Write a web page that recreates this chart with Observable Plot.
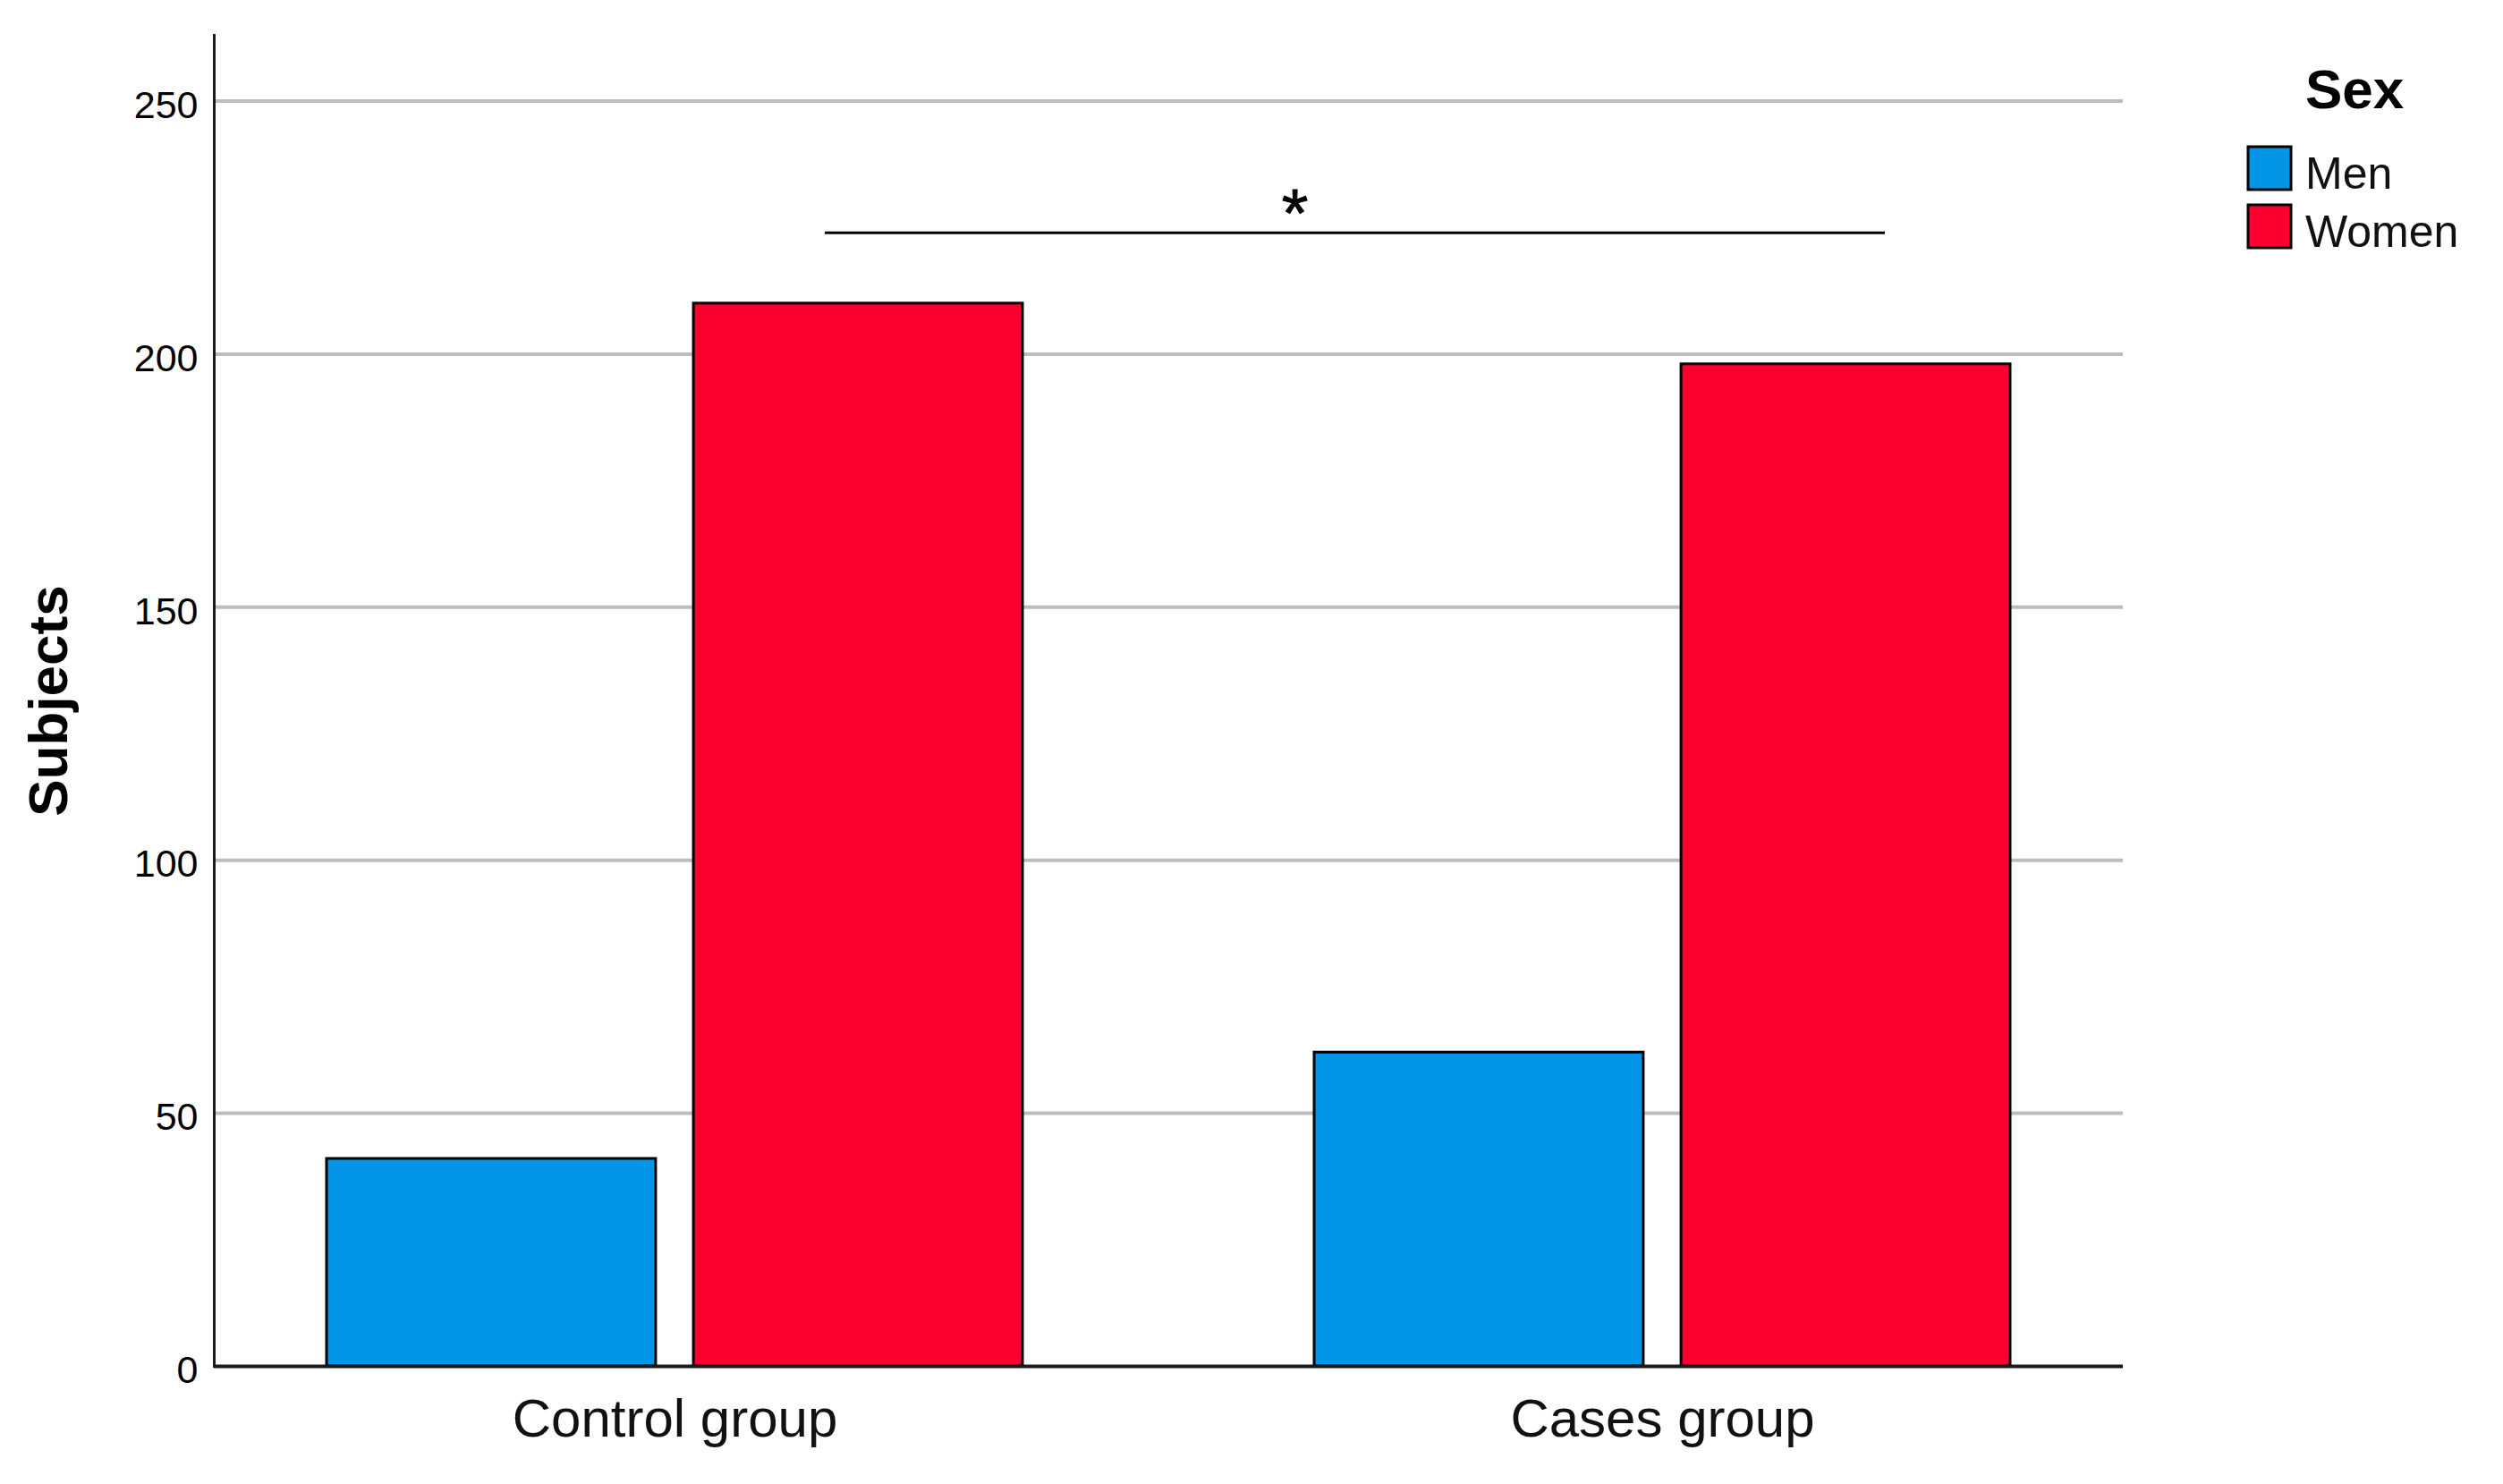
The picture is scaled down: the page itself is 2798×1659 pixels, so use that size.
<!DOCTYPE html>
<html>
<head>
<meta charset="utf-8">
<script src="https://cdn.jsdelivr.net/npm/d3@7"></script>
<script src="https://cdn.jsdelivr.net/npm/@observablehq/plot@0.6"></script>
<style>
  html, body { margin: 0; padding: 0; background: #fff; }
  #wrap { position: relative; width: 2798px; height: 1659px; }
  #legend { position: absolute; left: 0; top: 0; }
  [aria-label="y-axis label"] { font-size: 62px; font-weight: bold; fill: #000; }
</style>
</head>
<body>
<div id="wrap"></div>
<script>
// ---- data ----
const groups = ["Control group", "Cases group"];
const sexes = ["Men", "Women"];
const menCounts = [41, 62];
const womenCounts = [210, 198];
const colors = ["#0396e6", "#fe0030"];
const yTicks = [0, 50, 100, 150, 200, 250];
const gridTicks = [50, 100, 150, 200, 250];
const yMax = 263;
const sigY = [224];
const sigLabel = ["*"];
const legendTitle = "Sex";
const yLabel = "Subjects";

const data = groups.flatMap((g, i) => [
  {group: g, sex: sexes[0], count: menCounts[i]},
  {group: g, sex: sexes[1], count: womenCounts[i]}
]);

// layout
const W = 2798, H = 1659;
const mL = 239, mR = 425, mT = 39, mB = 132;
const padInner = 0.2957, padOuter = 0.114;
const barGapRatio = 0.0545; // gap between the two bars of a group, as share of group band
// same band scale that Plot builds, to size the side-by-side bars inside each group band
const band = d3.scaleBand().domain(groups).range([mL, W - mR]).paddingInner(padInner).paddingOuter(padOuter);
const half = band.bandwidth() * (1 + barGapRatio) / 2;

const chart = Plot.plot({
  width: W,
  height: H,
  marginLeft: mL,
  marginRight: mR,
  marginTop: mT,
  marginBottom: mB,
  style: {fontFamily: "'Liberation Sans', Arial, sans-serif", background: "#fff", color: "#000"},
  x: {domain: groups, paddingInner: padInner, paddingOuter: padOuter, label: null},
  y: {domain: [0, yMax], label: yLabel, labelArrow: false},
  color: {domain: sexes, range: colors},
  marks: [
    Plot.ruleY(gridTicks, {stroke: "#bdbdbd", strokeWidth: 4}),
    Plot.barY(data.filter(d => d.sex === sexes[0]), {x: "group", y: "count", fill: "sex", stroke: "#000", strokeWidth: 3, insetRight: half}),
    Plot.barY(data.filter(d => d.sex === sexes[1]), {x: "group", y: "count", fill: "sex", stroke: "#000", strokeWidth: 3, insetLeft: half}),
    Plot.ruleY([0], {stroke: "#1a1a1a", strokeWidth: 4}),
    Plot.frame({anchor: "left", stroke: "#1a1a1a", strokeWidth: 3}),
    Plot.axisY({ticks: yTicks, tickSize: 0, tickPadding: 18, fontSize: 43, dy: 5,
                label: yLabel, labelArrow: false, labelAnchor: "center", labelOffset: 209}),
    Plot.axisX({tickSize: 0, tickPadding: 36, fontSize: 60, label: null, fill: "#111"}),
    Plot.ruleY(sigY, {stroke: "#000", strokeWidth: 3, insetLeft: 683, insetRight: 266}),
    Plot.text(sigY, {y: d => d, text: () => sigLabel[0], frameAnchor: "left",
                     textAnchor: "middle", lineAnchor: "bottom", dx: 1208, dy: 4, fontSize: 76,
                     fill: "#000", stroke: "#000", strokeWidth: 1})
  ]
});

const wrap = document.getElementById("wrap");
wrap.appendChild(chart);

// ---- legend ----
const leg = d3.select(wrap).append("svg")
  .attr("id", "legend")
  .attr("width", W).attr("height", 320)
  .style("font-family", "'Liberation Sans', Arial, sans-serif");
leg.append("text").attr("x", 2577).attr("y", 121)
  .attr("font-size", 62).attr("font-weight", "bold").text(legendTitle);
sexes.forEach((s, i) => {
  leg.append("rect").attr("x", 2513).attr("y", 164 + i * 65)
    .attr("width", 48).attr("height", 48).attr("fill", colors[i])
    .attr("stroke", "#000").attr("stroke-width", 3);
  leg.append("text").attr("x", 2577).attr("y", 211 + i * 65)
    .attr("font-size", 50).attr("fill", "#111").text(s);
});
</script>
</body>
</html>
